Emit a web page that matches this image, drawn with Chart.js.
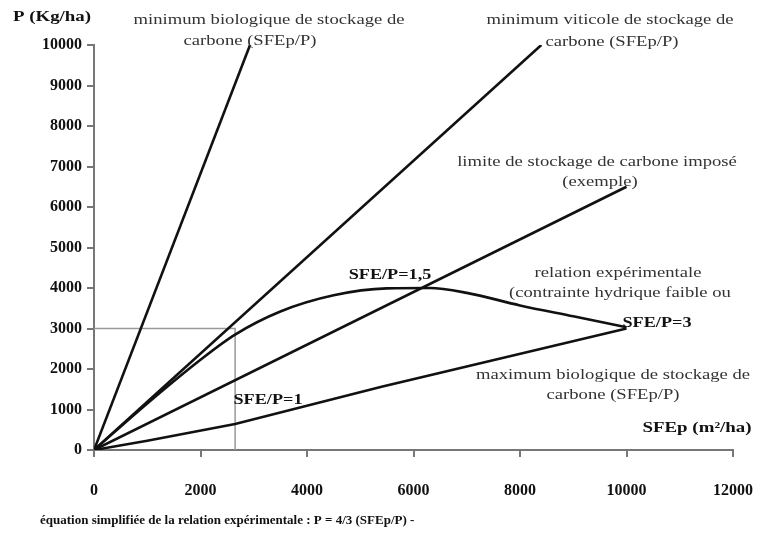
<!DOCTYPE html>
<html>
<head>
<meta charset="utf-8">
<script src="https://cdn.jsdelivr.net/npm/chart.js@4.4.1/dist/chart.umd.min.js"></script>
<style>
  body { margin: 0; background: #fff; }
  #wrap { width: 758px; height: 535px; position: relative; }
</style>
</head>
<body>
<div id="wrap"><canvas id="canva_line"></canvas></div>
<script>
// axis ticks
var ticksX = [0, 2000, 4000, 6000, 8000, 10000, 12000];
var ticksY = [0, 1000, 2000, 3000, 4000, 5000, 6000, 7000, 8000, 9000, 10000];

var minBioSfe = [0, 2930];
var minBioP = [0, 10000];
var minVitSfe = [0, 8400];
var minVitP = [0, 10000];
var limiteSfe = [0, 10000];
var limiteP = [0, 6500];
var maxBioSfe = [0, 1000, 2650, 5400, 10000];
var maxBioP = [0, 230, 640, 1560, 3000];
var expSfe = [0, 1000, 2000, 2650, 3500, 4500, 5500, 6300, 7000, 8000, 9000, 10000];
var expP = [0, 1150, 2230, 2850, 3420, 3820, 3990, 4000, 3880, 3570, 3300, 3030];
// gray guide at P = 3000
var guideSfe = [0, 2650, 2650];
var guideP = [3000, 3000, 0];

function pts(xs, ys) {
    var out = [];
    for (var i = 0; i < xs.length; i++) out.push({x: xs[i], y: ys[i]});
    return out;
}

function serie(xs, ys, color, width, extra) {
    var d = {
        data: pts(xs, ys),
        borderColor: color,
        borderWidth: width,
        pointRadius: 0,
        fill: false,
        tension: 0
    };
    for (var k in extra) d[k] = extra[k];
    return d;
}

// free texts of the figure : [text, x, y, bold, size, stretch]
var textes = [
    ['P (Kg/ha)', 52, 17, true, 14, 1.35],
    ['minimum biologique de stockage de', 269, 20, false, 14, 1.33],
    ['carbone (SFEp/P)', 250, 41, false, 14, 1.33],
    ['minimum viticole de stockage de', 610, 20, false, 14, 1.33],
    ['carbone (SFEp/P)', 612, 42, false, 14, 1.33],
    ['limite de stockage de carbone imposé', 597, 162, false, 14, 1.33],
    ['(exemple)', 600, 182, false, 14, 1.33],
    ['relation expérimentale', 618, 273, false, 14, 1.33],
    ['(contrainte hydrique faible ou', 620, 293, false, 14, 1.33],
    ['SFE/P=1,5', 390, 275, true, 14, 1.3],
    ['SFE/P=3', 657, 323, true, 14, 1.3],
    ['maximum biologique de stockage de', 613, 375, false, 14, 1.33],
    ['carbone (SFEp/P)', 613, 395, false, 14, 1.33],
    ['SFEp (m²/ha)', 697, 428, true, 14, 1.35],
    ['SFE/P=1', 268, 400, true, 14, 1.3]
];
var legende = 'équation simplifiée de la relation expérimentale : P = 4/3 (SFEp/P) -';

var textPlugin = {
    id: 'textes',
    afterDraw: function(chart) {
        var ctx = chart.ctx;
        ctx.save();
        ctx.textBaseline = 'middle';
        for (var i = 0; i < textes.length; i++) {
            var t = textes[i];
            ctx.save();
            ctx.font = (t[3] ? 'bold ' : '') + t[4] + 'px "Liberation Serif"';
            ctx.fillStyle = t[3] ? '#111' : '#333';
            ctx.textAlign = 'center';
            ctx.translate(t[1], t[2]);
            ctx.scale(t[5], 1);
            ctx.fillText(t[0], 0, 0);
            ctx.restore();
        }
        ctx.font = 'bold 13px "Liberation Serif"';
        ctx.fillStyle = '#111';
        ctx.textAlign = 'left';
        ctx.fillText(legende, 40, 521);
        ctx.restore();
    }
};

var ctx = document.getElementById('canva_line').getContext('2d');
var myChartLine = new Chart(ctx, {
    type: 'line',
    data: {
        datasets: [
            serie(minBioSfe, minBioP, '#111', 2.6),
            serie(minVitSfe, minVitP, '#111', 2.6),
            serie(limiteSfe, limiteP, '#111', 2.6),
            serie(maxBioSfe, maxBioP, '#111', 2.6),
            serie(expSfe, expP, '#111', 2.6, {cubicInterpolationMode: 'monotone'}),
            serie(guideSfe, guideP, '#999', 1.5, {order: 10})
        ]
    },
    options: {
        responsive: true,
        maintainAspectRatio: false,
        animation: false,
        layout: {
            padding: {top: 45, right: 25, left: 0, bottom: 0}
        },
        plugins: {
            legend: {display: false},
            tooltip: {enabled: false}
        },
        scales: {
            x: {
                type: 'linear',
                min: 0,
                max: 12000,
                afterBuildTicks: function(s) {
                    s.ticks = ticksX.map(function(v) { return {value: v}; });
                },
                afterFit: function(s) {
                    s.height = 85;
                    s.paddingLeft = 0;
                    s.paddingRight = 0;
                },
                grid: {drawOnChartArea: false, drawTicks: true, tickLength: 7, color: '#777', lineWidth: 2},
                border: {color: '#777', width: 2},
                ticks: {
                    padding: 24,
                    color: '#111',
                    maxRotation: 0,
                    callback: function(v) { return String(v); },
                    font: {family: '"Liberation Serif"', size: 16, weight: 'bold'}
                }
            },
            y: {
                type: 'linear',
                min: 0,
                max: 10000,
                afterBuildTicks: function(s) {
                    s.ticks = ticksY.map(function(v) { return {value: v}; });
                },
                afterFit: function(s) {
                    s.width = 94;
                    s.paddingTop = 0;
                    s.paddingBottom = 0;
                },
                grid: {drawOnChartArea: false, drawTicks: true, tickLength: 7, color: '#777', lineWidth: 2},
                border: {color: '#777', width: 2},
                ticks: {
                    padding: 5,
                    color: '#111',
                    callback: function(v) { return String(v); },
                    font: {family: '"Liberation Serif"', size: 16, weight: 'bold'}
                }
            }
        }
    },
    plugins: [textPlugin]
});
</script>
</body>
</html>
